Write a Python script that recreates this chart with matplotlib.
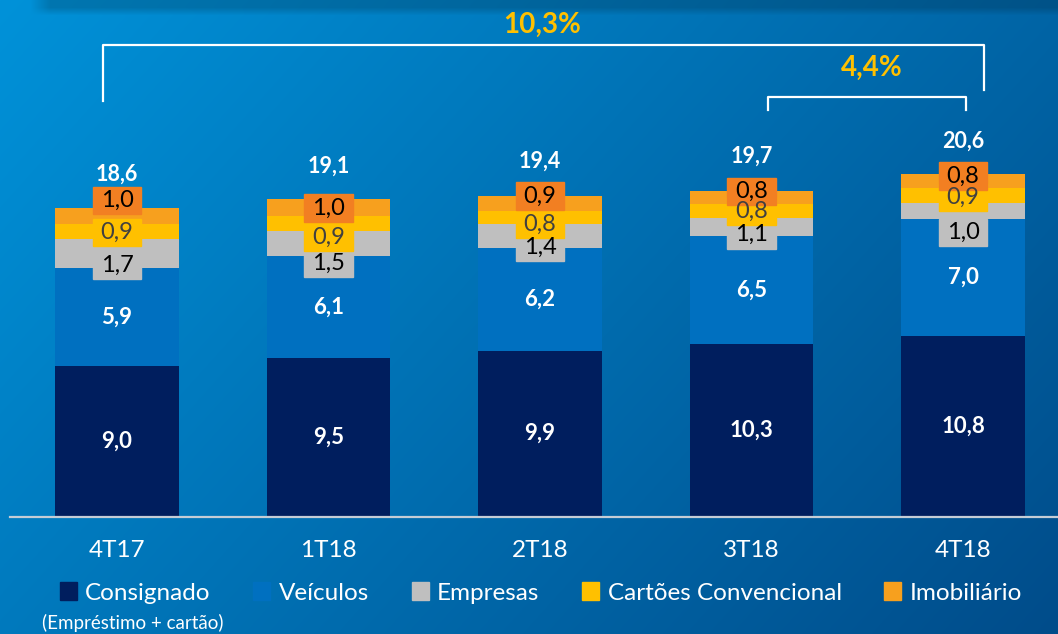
#!/usr/bin/env python3
"""
Carteira de crédito por produto (R$ bilhões) - barras empilhadas
"""

import matplotlib
matplotlib.use('Agg')
import matplotlib.pyplot as plt
from matplotlib.patches import Rectangle
import numpy as np

# fonte parecida com Calibri
plt.rcParams['font.family'] = ['Lato', 'DejaVu Sans']

# dados
categories = ['4T17', '1T18', '2T18', '3T18', '4T18']
consignado = [9.0, 9.5, 9.9, 10.3, 10.8]
veiculos = [5.9, 6.1, 6.2, 6.5, 7.0]
empresas = [1.7, 1.5, 1.4, 1.1, 1.0]
cartoes = [0.9, 0.9, 0.8, 0.8, 0.9]
imobiliario = [1.0, 1.0, 0.9, 0.8, 0.8]
totais = [18.6, 19.1, 19.4, 19.7, 20.6]
series_names = ['Consignado', 'Veículos', 'Empresas', 'Cartões Convencional', 'Imobiliário']
growth_year = '10,3%'
growth_quarter = '4,4%'

# estilo
colors = ['#001E5E', '#0070C0', '#BFBFBF', '#FFC000', '#F7A01E']
label_box_colors = [None, None, '#BFBFBF', '#FFC000', '#F27F22']
label_text_colors = ['white', 'white', 'black', '#404040', 'black']
# deslocamento vertical dos rótulos pequenos (unidades do eixo, negativo = para cima)
label_shift = [
    None,
    None,
    [0.72, 1.2, 0.69, 0.48, 1.29],
    [0.03, 0.84, 0.39, 0.0, 0.12],
    [-0.93, 0.03, -0.45, -0.36, -0.3],
]
GOLD = '#FFC000'

W, H = 1058, 634
PX_X = 211.5           # pixels por categoria
PX_Y = 16.67           # pixels por unidade
X0_PX, BASE_PX = 117, 516


def fmt(v):
    return f'{v:.1f}'.replace('.', ',')


fig = plt.figure(figsize=(W / 100, H / 100), dpi=100)

# fundo em degradê azul
bg = fig.add_axes([0, 0, 1, 1])
xx, yy = np.meshgrid(np.linspace(0, 1, W), np.linspace(0, 1, H))
t = 0.65 * xx + 0.35 * yy
c0 = np.array([0x00, 0x92, 0xD9]) / 255
c1 = np.array([0x00, 0x4C, 0x8A]) / 255
img = c0[None, None, :] * (1 - t[..., None]) + c1[None, None, :] * t[..., None]
# sombra escura no topo
shade = np.clip((15 - yy * H) / 8, 0, 1) * np.clip((xx * W - 30) / 20, 0, 1)
img = img * (1 - 0.18 * shade[..., None])
bg.imshow(img, aspect='auto', extent=[0, 1, 0, 1], origin='upper')
bg.axis('off')

# eixo principal ocupa a figura inteira
ax = fig.add_axes([0, 0, 1, 1])
ax.patch.set_alpha(0)
ax.set_xlim(-X0_PX / PX_X, (W - X0_PX) / PX_X)
ax.set_ylim(-(H - BASE_PX) / PX_Y, BASE_PX / PX_Y)
ax.axis('off')

x = np.arange(len(categories))
width = 0.586
series = [consignado, veiculos, empresas, cartoes, imobiliario]

bottom = np.zeros(len(categories))
box_w, box_h = 0.23, 1.65
for s, vals in enumerate(series):
    vals = np.array(vals)
    ax.bar(x, vals, width, bottom=bottom, color=colors[s], zorder=2)
    centers = bottom + vals / 2
    for i, v in enumerate(vals):
        if label_box_colors[s] is None:
            ax.text(x[i], centers[i], fmt(v), color='white', fontsize=16,
                    fontweight='bold', ha='center', va='center', zorder=5)
        else:
            yc = centers[i] - label_shift[s][i]
            ax.add_patch(Rectangle((x[i] - box_w / 2, yc - box_h / 2), box_w, box_h,
                                   color=label_box_colors[s], zorder=3 + s * 0.1))
            ax.text(x[i], yc, fmt(v), color=label_text_colors[s], fontsize=17,
                    ha='center', va='center', zorder=5)
    bottom += vals

# totais
for i, tot in enumerate(totais):
    ax.text(x[i], tot + 1.9, fmt(tot), color='white', fontsize=15.5,
            fontweight='bold', ha='center', va='center', zorder=5)

# linha base
ax.plot([-0.506, 4.5], [-0.05, -0.05], color='#C5CDD6', lw=1.6, zorder=4)

# categorias
for i, cat in enumerate(categories):
    ax.text(x[i], -2.05, cat, color='white', fontsize=17.5, ha='center', va='center')

# chaves de crescimento
ax.plot([x[0] - 0.066, x[0] - 0.066, x[4] + 0.1, x[4] + 0.1],
        [24.9, 28.26, 28.26, 25.56], color='white', lw=1.6, zorder=4)
ax.text(2.01, 29.45, growth_year, color=GOLD, fontsize=20, fontweight='bold',
        ha='center', va='center')
ax.plot([x[3] + 0.078, x[3] + 0.078, x[4] + 0.014, x[4] + 0.014],
        [24.36, 25.14, 25.14, 24.36], color='white', lw=1.6, zorder=4)
ax.text(3.57, 26.9, growth_quarter, color=GOLD, fontsize=20, fontweight='bold',
        ha='center', va='center')

# legenda
handles = [Rectangle((0, 0), 1, 1, color=c) for c in colors]
leg = ax.legend(handles, series_names, loc='center', ncol=5, frameon=False,
                bbox_to_anchor=(541 / W, 1 - 593 / H), bbox_transform=fig.transFigure,
                fontsize=17.5, handlelength=0.7, handleheight=0.7,
                handletextpad=0.35, columnspacing=1.75, labelcolor='white')
fig.text(133 / W, 1 - 623 / H, '(Empréstimo + cartão)', color='white', fontsize=13.5,
         ha='center', va='center')

plt.savefig('out.png', dpi=100)
plt.close()
